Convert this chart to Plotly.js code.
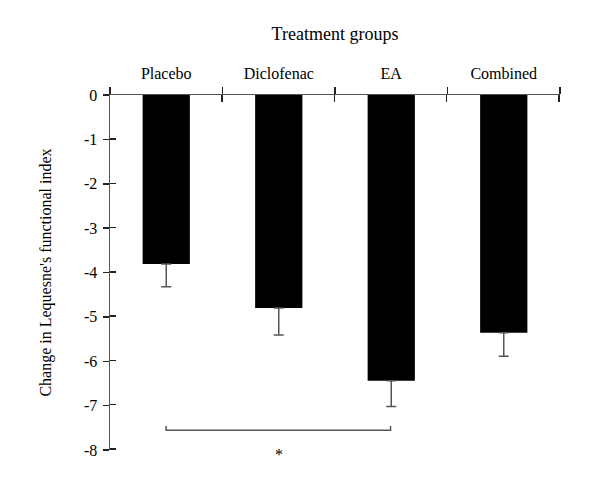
<!DOCTYPE html>
<html>
<head>
<meta charset="utf-8">
<script src="https://cdn.plot.ly/plotly-3.0.1.min.js"></script>
<style>html,body{margin:0;padding:0;background:#fff}#chart{width:600px;height:504px}</style>
</head>
<body>
<div id="chart"></div>
<script>
// Data
const categories = ["Placebo", "Diclofenac", "EA", "Combined"];
const changeValues = [-3.81, -4.80, -6.44, -5.36];
const errorMinus = [0.51, 0.61, 0.58, 0.53];
const errorPlus = [0, 0, 0, 0];
const yTickValues = [0, -1, -2, -3, -4, -5, -6, -7, -8];
const yTickLabels = ["0", "-1", "-2", "-3", "-4", "-5", "-6", "-7", "-8"];
const bracketX = ["Placebo", "Placebo", "EA", "EA"];
const bracketY = [-7.48, -7.58, -7.58, -7.48];
const sigLabel = "*";
const sigX = 1;
const sigY = -8;

const FONT = "Liberation Serif, Times New Roman, serif";

const traces = [
  {
    type: "bar",
    x: categories,
    y: changeValues,
    marker: {color: "#000000", line: {width: 0}},
    error_y: {
      type: "data",
      symmetric: false,
      array: errorPlus,
      arrayminus: errorMinus,
      color: "#555555",
      thickness: 1.5,
      width: 5
    },
    hoverinfo: "x+y",
    showlegend: false
  },
  {
    type: "scatter",
    mode: "lines",
    x: bracketX,
    y: bracketY,
    xaxis: "x2",
    yaxis: "y2",
    line: {color: "#555555", width: 1.5},
    cliponaxis: false,
    hoverinfo: "skip",
    showlegend: false
  }
];

const layout = {
  width: 600,
  height: 504,
  margin: {l: 110, r: 40, t: 95, b: 54, pad: 0},
  paper_bgcolor: "#ffffff",
  plot_bgcolor: "#ffffff",
  font: {family: FONT, color: "#000000", size: 16},
  bargap: 0.58,
  showlegend: false,
  xaxis: {
    type: "category",
    categoryorder: "array",
    categoryarray: categories,
    range: [-0.5, 3.5],
    side: "top",
    anchor: "y",
    tickson: "boundaries",
    ticks: "outside",
    ticklen: 6.5,
    tickwidth: 1.5,
    tickcolor: "#222222",
    showline: true,
    linecolor: "#555555",
    linewidth: 1.5,
    showgrid: false,
    zeroline: false,
    tickfont: {family: FONT, size: 16, color: "#000000"},
    ticklabelstandoff: 8,
    title: {text: "Treatment groups", font: {family: FONT, size: 18, color: "#000000"}, standoff: 20},
    fixedrange: true
  },
  xaxis2: {
    type: "category",
    categoryorder: "array",
    categoryarray: categories,
    range: [-0.5, 3.51],
    tickson: "boundaries",
    overlaying: "x",
    side: "top",
    anchor: "y2",
    ticks: "inside",
    ticklen: 6.5,
    tickwidth: 1.5,
    tickcolor: "#222222",
    showticklabels: false,
    showline: false,
    showgrid: false,
    zeroline: false,
    fixedrange: true
  },
  yaxis: {
    range: [-8, 0],
    tickvals: yTickValues,
    ticktext: yTickLabels,
    ticks: "outside",
    ticklen: 6,
    tickwidth: 1.5,
    tickcolor: "#222222",
    showline: true,
    linecolor: "#555555",
    linewidth: 1.5,
    showgrid: false,
    zeroline: false,
    tickfont: {family: FONT, size: 16, color: "#000000"},
    ticklabelstandoff: 2,
    title: {text: "Change in Lequesne's functional index", font: {family: FONT, size: 16, color: "#000000"}, standoff: 28},
    fixedrange: true
  },
  yaxis2: {
    type: "linear",
    range: [-8.025, 0],
    tickvals: yTickValues,
    overlaying: "y",
    side: "left",
    anchor: "x2",
    ticks: "inside",
    ticklen: 6,
    tickwidth: 1.5,
    tickcolor: "#222222",
    showticklabels: false,
    showline: false,
    showgrid: false,
    zeroline: false,
    fixedrange: true
  },
  annotations: [
    {
      x: sigX,
      y: sigY,
      xref: "x",
      yref: "y",
      text: sigLabel,
      showarrow: false,
      xanchor: "center",
      yanchor: "middle",
      yshift: -4,
      font: {family: FONT, size: 16, color: "#000000"}
    }
  ]
};

Plotly.newPlot("chart", traces, layout, {displayModeBar: false, staticPlot: true});
</script>
</body>
</html>
